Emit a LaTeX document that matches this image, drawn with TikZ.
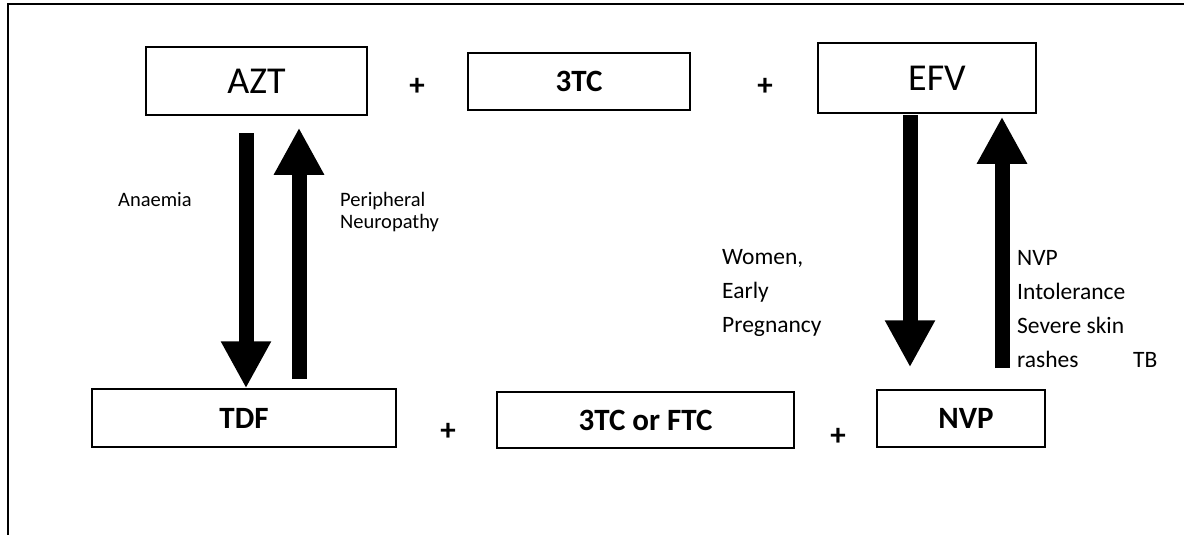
\documentclass[tikz,border=0pt]{standalone}
\usepackage{fontspec}
\setmainfont{Carlito}
\usetikzlibrary{arrows.meta,calc}
\begin{document}
\begin{tikzpicture}[x=1pt,y=-1pt,
  box/.style={draw, line width=1.5pt, inner sep=0pt, anchor=center},
  bigfont/.style={font=\fontsize{38}{42}\selectfont},
  boldfont/.style={font=\bfseries\fontsize{31}{34}\selectfont},
  plussign/.style={font=\bfseries\fontsize{31}{34}\selectfont, inner sep=0pt, anchor=center},
  note/.style={anchor=base west, inner sep=0pt, align=left},
  smallnote/.style={note, font=\fontsize{20.5}{21}\selectfont},
  largenote/.style={note, font=\fontsize{23.5}{34}\selectfont},
  blockarrow/.style={line width=15pt, -{Triangle[width=47pt,length=47pt]}}
]
\useasboundingbox (0,0) rectangle (1184,535);
% frame
\draw[line width=2pt] (8,535) -- (8,4) -- (1184,4);

% top row
\node[box, bigfont, minimum width=221pt, minimum height=68pt] (AZT) at (256.5,81) {AZT};
\node[plussign] (p1) at (417,87) {+};
\node[box, boldfont, minimum width=222pt, minimum height=57pt] (TC) at (579,81.5) {3TC};
\node[plussign] (p2) at (765,87) {+};
\node[box, bigfont, minimum width=218pt, minimum height=70pt] (EFV) at (927,78) {\hspace*{20pt}EFV};

% bottom row
\node[box, boldfont, minimum width=304pt, minimum height=58pt] (TDF) at (244,418) {TDF};
\node[plussign] (p3) at (448,432) {+};
\node[box, boldfont, minimum width=297pt, minimum height=56pt] (TCF) at (645.5,420) {3TC or FTC};
\node[plussign] (p4) at (838,437) {+};
\node[box, boldfont, minimum width=168pt, minimum height=57pt] (NVP) at (961,418.5) {\hspace*{10pt}NVP};

% arrows
\coordinate (d1) at (246,133);
\draw[blockarrow] (d1) -- (d1 |- TDF.north);
\coordinate (u1) at (299,379);
\draw[blockarrow] (u1) -- ($(u1 |- AZT.south)+(0,12)$);
\coordinate (d2) at (910,115);
\draw[blockarrow] (d2) -- ($(d2 |- NVP.north)+(0,-22)$);
\coordinate (u2) at (1002,368);
\draw[blockarrow] (u2) -- ($(u2 |- EFV.south)+(0,3)$);

% labels
\node[smallnote] (anaemia) at (118,206) {Anaemia};
\node[smallnote] (neuro) at (340,206) {\vtop{\baselineskip=22pt\hbox{Peripheral}\hbox{Neuropathy}}};
\node[largenote] (women) at (722,264) {\vtop{\baselineskip=34pt\hbox{Women,}\hbox{Early}\hbox{Pregnancy}}};
\node[largenote] (intol) at (1017,265) {\vtop{\baselineskip=34pt\hbox{NVP}\hbox{Intolerance}\hbox{Severe skin}\hbox{rashes}}};
\node[largenote] (tb) at (1133,367) {TB};
\end{tikzpicture}
\end{document}
